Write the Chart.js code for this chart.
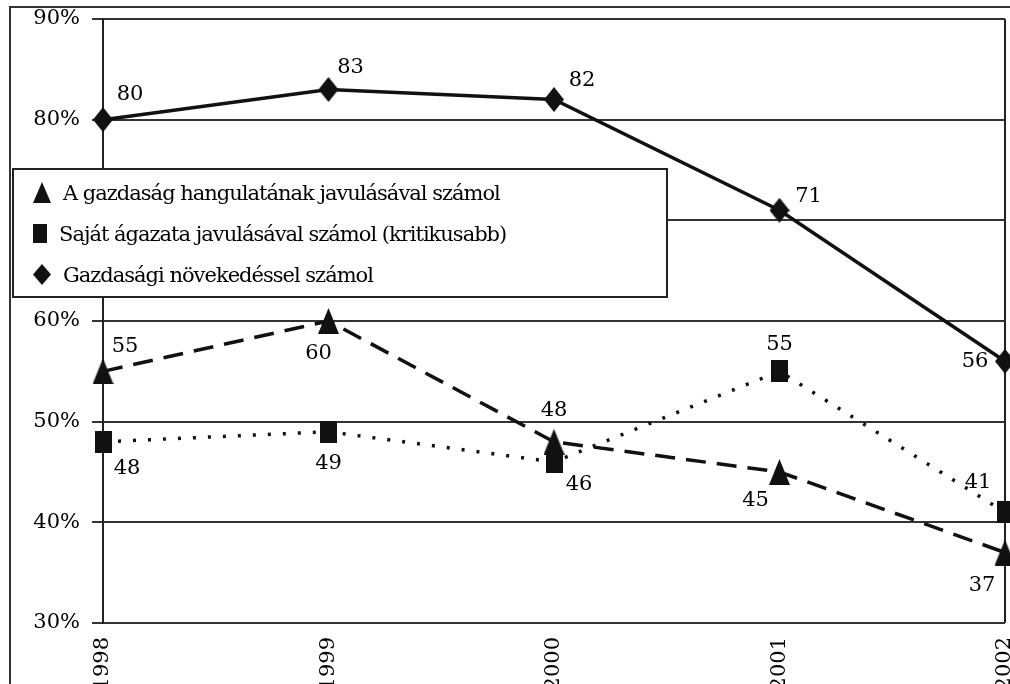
<!DOCTYPE html>
<html>
<head>
<meta charset="utf-8">
<script src="https://cdn.jsdelivr.net/npm/chart.js@4"></script>
<style>
  html, body { margin: 0; padding: 0; background: #fff; overflow: hidden; }
  #wrap { position: relative; width: 1010px; height: 684px; }
  #legend {
    position: absolute; left: 12px; top: 168px; width: 652px; height: 124px;
    border: 2px solid #222; background: #fff; box-sizing: content-box;
    font-family: "DejaVu Serif", serif; font-size: 21px; letter-spacing: -1px; color: #000;
    padding-top: 2px;
  }
  #legend .row { height: 41px; display: flex; align-items: center; }
  #legend canvas { margin-left: 19px; margin-right: 12px; }
</style>
</head>
<body>
<div id="wrap">
  <canvas id="chart" width="1010" height="684"></canvas>
  <div id="legend"></div>
</div>
<script>
// Chart data
const years = ['1998', '1999', '2000', '2001', '2002'];
const seriesNames = [
  'A gazdaság hangulatának javulásával számol',
  'Saját ágazata javulásával számol (kritikusabb)',
  'Gazdasági növekedéssel számol'
];
const mood = [55, 60, 48, 45, 37];
const ownSector = [48, 49, 46, 55, 41];
const growth = [80, 83, 82, 71, 56];
const yTicks = [30, 40, 50, 60, 70, 80, 90];

const FONT = '"DejaVu Serif", serif';

// build a marker image (triangle / square / diamond)
function makeMarker(shape, w, h) {
  const c = document.createElement('canvas');
  c.width = w; c.height = h;
  const g = c.getContext('2d');
  g.fillStyle = '#111';
  g.beginPath();
  if (shape === 'triangle') {
    g.moveTo(w / 2, 0); g.lineTo(w, h); g.lineTo(0, h);
  } else if (shape === 'square') {
    g.rect(0, 0, w, h);
  } else {
    g.moveTo(w / 2, 0); g.lineTo(w, h / 2); g.lineTo(w / 2, h); g.lineTo(0, h / 2);
  }
  g.closePath();
  g.fill();
  return c;
}

const triMark = makeMarker('triangle', 21, 26);
const sqMark = makeMarker('square', 17, 22);
const diaMark = makeMarker('diamond', 20, 25);

// legend
const legendMarks = [makeMarker('triangle', 18, 21), makeMarker('square', 14, 19), makeMarker('diamond', 18, 21)];
const legend = document.getElementById('legend');
seriesNames.forEach(function (name, i) {
  const row = document.createElement('div');
  row.className = 'row';
  row.appendChild(legendMarks[i]);
  const span = document.createElement('span');
  span.textContent = name;
  row.appendChild(span);
  legend.appendChild(row);
});

// value labels next to the points
const valueLabels = {
  id: 'valueLabels',
  afterDatasetsDraw(chart, args, opts) {
    const ctx = chart.ctx;
    ctx.save();
    ctx.font = '21px ' + FONT;
    ctx.fillStyle = '#000';
    ctx.textAlign = 'center';
    ctx.textBaseline = 'middle';
    chart.data.datasets.forEach(function (ds, i) {
      const meta = chart.getDatasetMeta(i);
      meta.data.forEach(function (pt, j) {
        const off = opts.offsets[i][j];
        ctx.fillText(String(ds.data[j]), pt.x + off[0], pt.y + off[1]);
      });
    });
    ctx.restore();
  }
};

// outer frame of the figure + right edge of the plot
const frame = {
  id: 'frame',
  beforeDraw(chart) {
    const ctx = chart.ctx;
    const a = chart.chartArea;
    ctx.save();
    ctx.strokeStyle = '#333';
    ctx.lineWidth = 2;
    ctx.beginPath();
    ctx.moveTo(10, 700);
    ctx.lineTo(10, 7);
    ctx.lineTo(1020, 7);
    ctx.stroke();
    ctx.strokeStyle = '#222';
    ctx.beginPath();
    ctx.moveTo(a.right, a.top);
    ctx.lineTo(a.right, a.bottom);
    ctx.stroke();
    ctx.restore();
  }
};

const ctx = document.getElementById('chart').getContext('2d');
const chart = new Chart(ctx, {
  type: 'line',
  data: {
    labels: years,
    datasets: [
      {
        label: seriesNames[0],
        data: mood,
        borderColor: '#111',
        borderWidth: 3.5,
        borderDash: [20, 11],
        pointStyle: triMark,
        tension: 0,
        clip: false
      },
      {
        label: seriesNames[1],
        data: ownSector,
        borderColor: '#111',
        borderWidth: 3.5,
        borderDash: [3, 12],
        pointStyle: sqMark,
        tension: 0,
        clip: false
      },
      {
        label: seriesNames[2],
        data: growth,
        borderColor: '#111',
        borderWidth: 3.5,
        pointStyle: diaMark,
        tension: 0,
        clip: false
      }
    ]
  },
  options: {
    responsive: false,
    animation: false,
    devicePixelRatio: 1,
    layout: { autoPadding: false, padding: { top: 19, right: 5, left: 0, bottom: 0 } },
    plugins: {
      legend: { display: false },
      tooltip: { enabled: false },
      valueLabels: {
        offsets: [
          [[22, -25], [-10, 33], [0, -31], [-24, 29], [-23, 33]],
          [[24, 27], [0, 32], [25, 23], [0, -27], [-27, -30]],
          [[27, -25], [22, -22], [28, -19], [29, -14], [-30, 0]]
        ]
      }
    },
    scales: {
      x: {
        offset: false,
        border: { display: false },
        grid: { display: false },
        ticks: {
          minRotation: 90,
          maxRotation: 90,
          padding: 6,
          color: '#000',
          font: { family: FONT, size: 21 }
        },
        afterFit: function (scale) {
          scale.height = 61;
          scale.paddingLeft = 0;
          scale.paddingRight = 0;
        }
      },
      y: {
        min: 30,
        max: 90,
        border: { color: '#222', width: 2 },
        grid: { color: '#333', lineWidth: 2, tickLength: 11 },
        afterBuildTicks: function (scale) {
          scale.ticks = yTicks.map(function (v) { return { value: v }; });
        },
        ticks: {
          padding: 12,
          color: '#000',
          font: { family: FONT, size: 21 },
          callback: function (v) { return v + '%'; }
        },
        afterFit: function (scale) {
          scale.width = 103;
          scale.paddingTop = 0;
          scale.paddingBottom = 0;
        }
      }
    }
  },
  plugins: [valueLabels, frame]
});
</script>
</body>
</html>
